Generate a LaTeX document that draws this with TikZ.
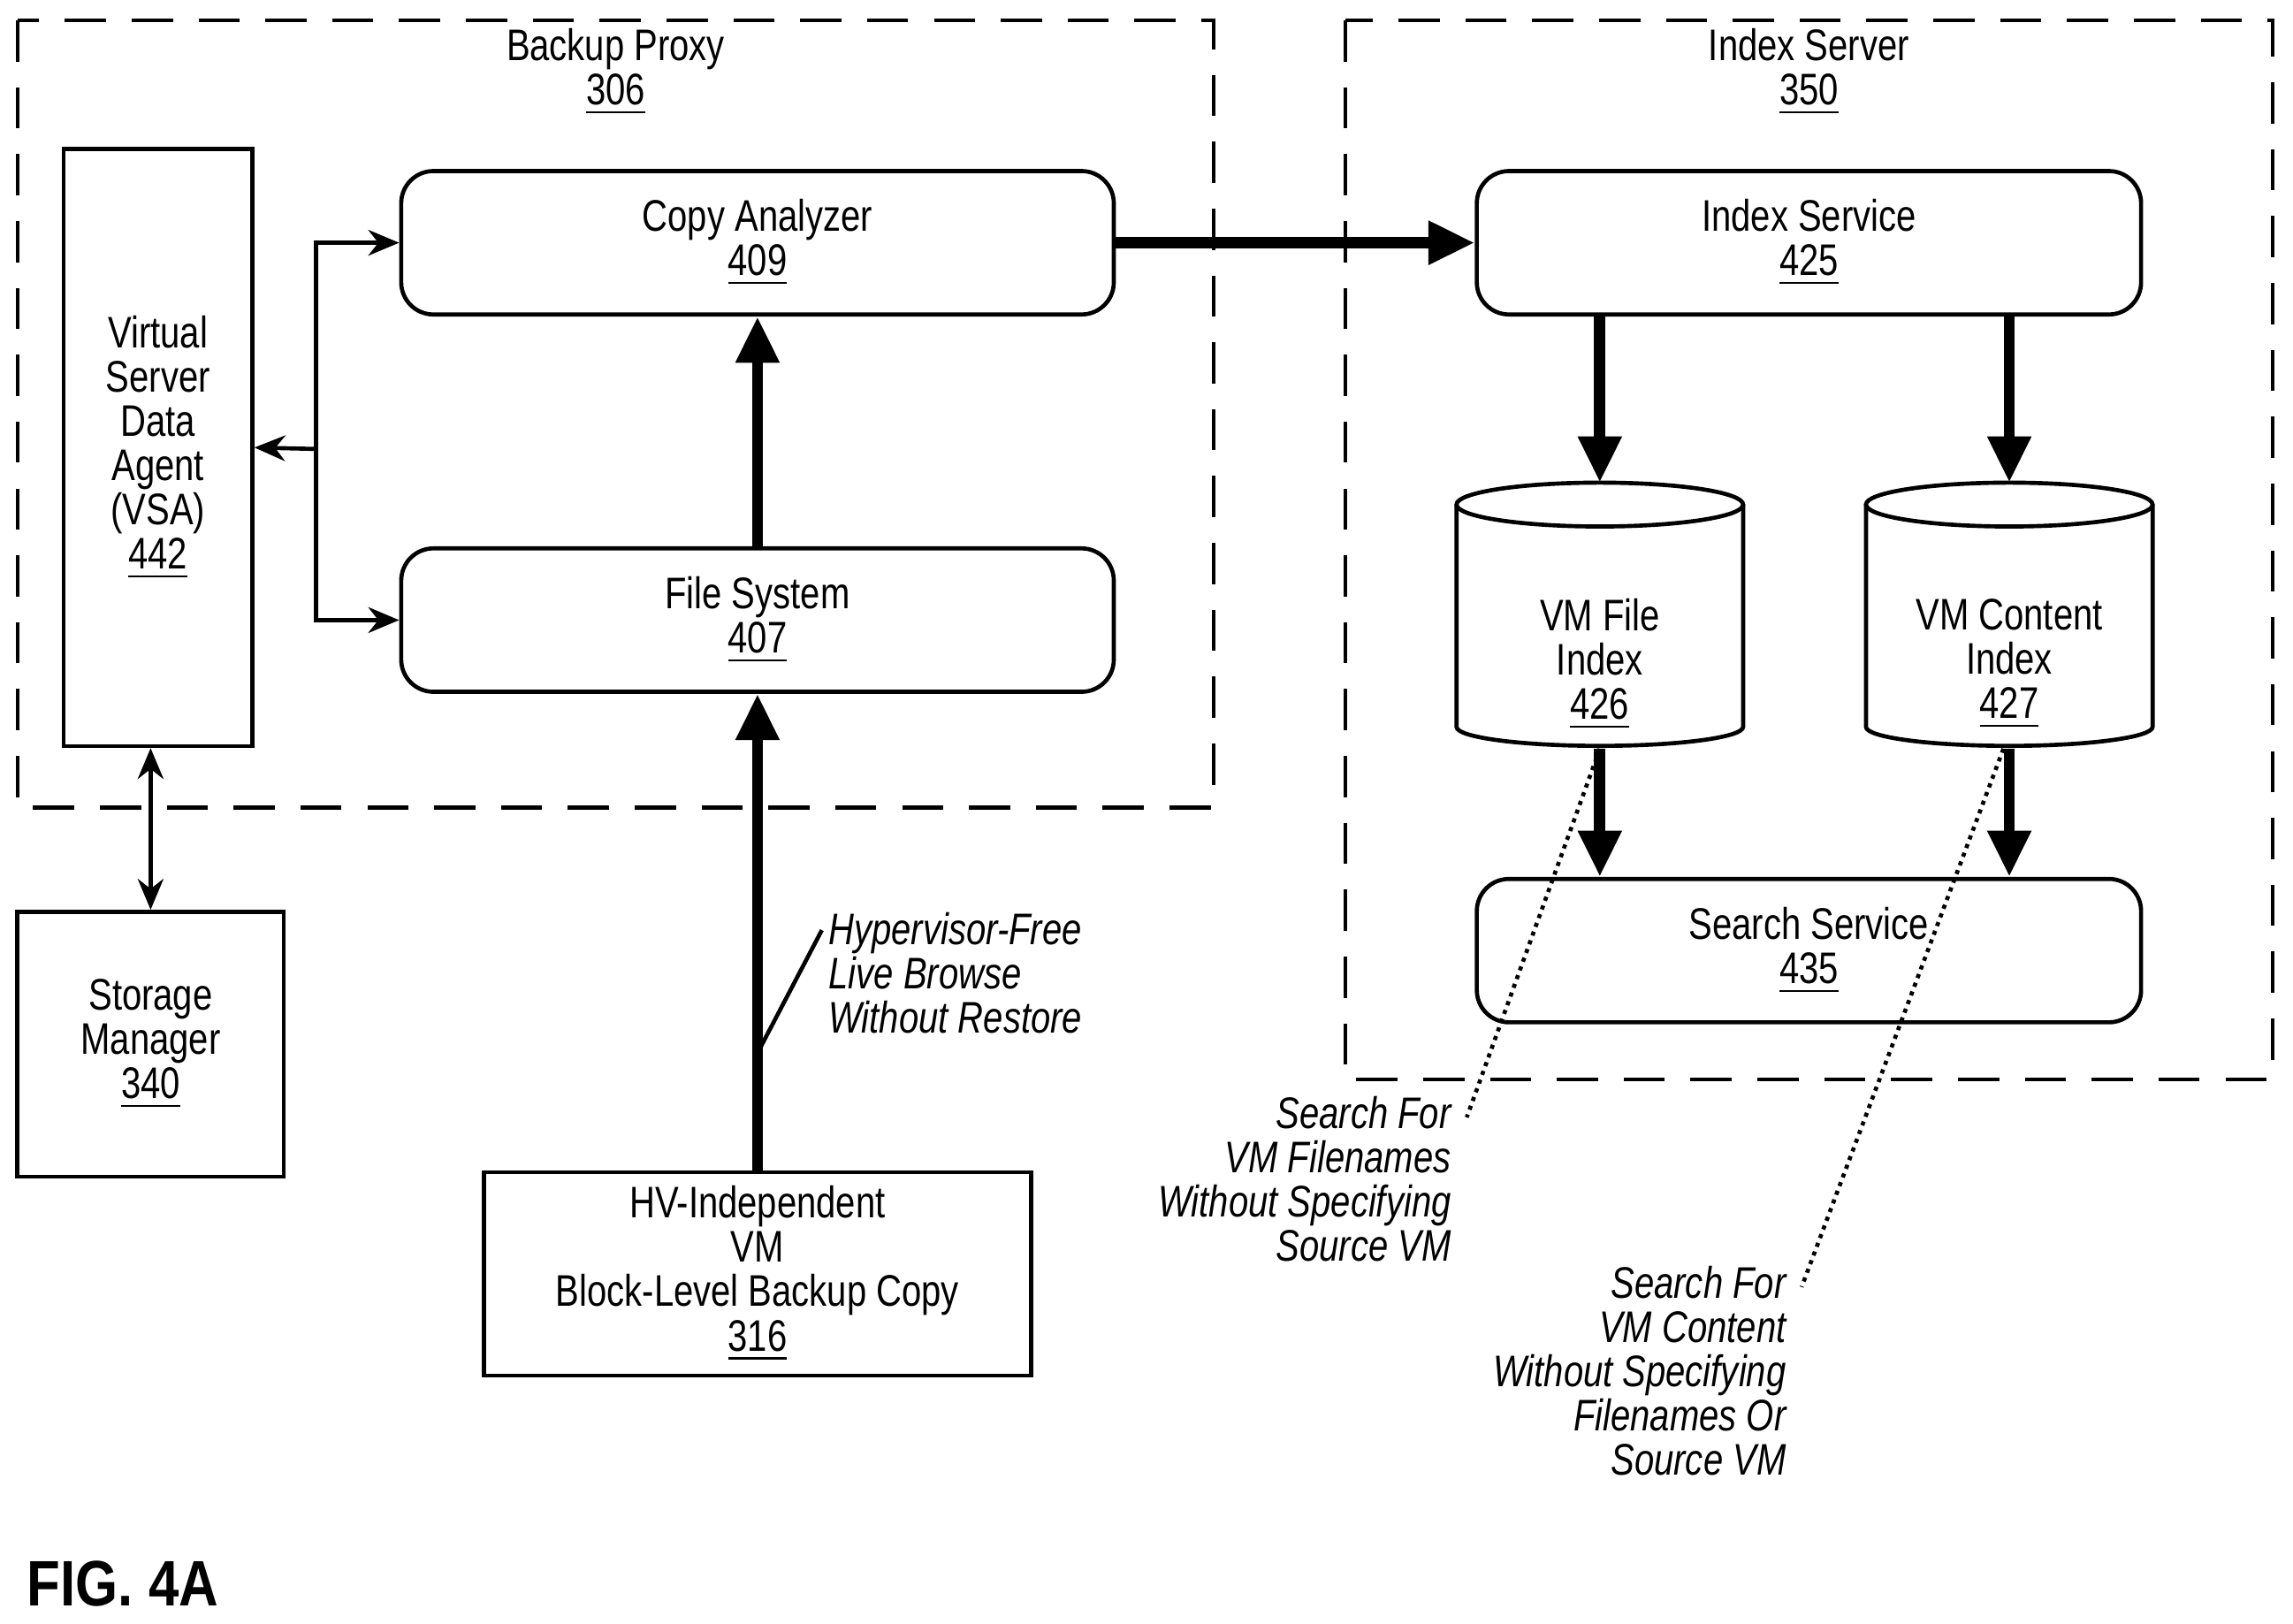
\documentclass[tikz,border=0pt]{standalone}
\usepackage{fontspec}
\setmainfont{Liberation Sans}
\usetikzlibrary{arrows.meta}
\tikzset{
  txt/.style={font=\fontsize{8.6}{8.6}\selectfont\addfontfeature{FakeStretch=0.8},align=center,inner sep=0pt,yshift=-0.03cm},
  rbox/.style={draw,thick,rounded corners=0.22cm,minimum width=4.87cm,minimum height=0.98cm,inner sep=0pt},
  group/.style={draw,thick,dashed,dash pattern=on 8pt off 5pt},
  big/.style={line width=2.2pt,-{Triangle[length=9pt,width=8pt]}},
  thin/.style={thick,-{Stealth[length=6pt,width=5pt]}},
  note/.style={txt,font=\fontsize{8.6}{8.6}\selectfont\itshape\addfontfeature{FakeStretch=0.8}},
  dots/.style={thick,densely dotted}
}
\newcommand{\ul}[1]{\underline{#1}}
\begin{document}
\begin{tikzpicture}[x=0.01cm,y=-0.01cm]
  \useasboundingbox (0,0) rectangle (1568,1110);
  % groups
  \draw[group] (12,14) rectangle (830,552);
  \draw[group] (920,14) rectangle (1554,738);
  \node[txt] (proxy) at (421,46) {Backup Proxy\\\ul{306}};
  \node[txt] (server) at (1237,46) {Index Server\\\ul{350}};
  % boxes
  \node[draw,thick,minimum width=1.29cm,minimum height=4.08cm,txt,yshift=0.03cm] (vsa) at (108,306) {Virtual\\Server\\Data\\Agent\\(VSA)\\\ul{442}};
  \node[rbox,txt,yshift=0.03cm] (ca) at (518,166) {Copy Analyzer\\\ul{409}};
  \node[rbox,txt,yshift=0.03cm] (fs) at (518,424) {File System\\\ul{407}};
  \node[draw,thick,minimum width=3.74cm,minimum height=1.39cm,txt,yshift=0.03cm] (hv) at (518,871) {HV-Independent\\VM\\Block-Level Backup Copy\\\ul{316}};
  \node[draw,thick,minimum width=1.82cm,minimum height=1.81cm,txt,yshift=0.03cm] (sm) at (103,714) {Storage\\Manager\\\ul{340}};
  \node[rbox,minimum width=4.54cm,txt,yshift=0.03cm] (is) at (1237,166) {Index Service\\\ul{425}};
  \node[rbox,minimum width=4.54cm,txt,yshift=0.03cm] (ss) at (1237,650) {Search Service\\\ul{435}};
  % index stores
  \foreach \cx/\nm in {1094/fi,1374/ci}{
    \draw[thick] (\cx,345) ellipse[x radius=98,y radius=15];
    \draw[thick] (\cx-98,345) -- (\cx-98,497) arc[start angle=180,end angle=0,x radius=98,y radius=13] -- (\cx+98,345);
    \coordinate (\nm-top) at (\cx,330);
    \coordinate (\nm-bot) at (\cx,512);
  }
  \node[txt] (fitxt) at (1094,451) {VM File\\Index\\\ul{426}};
  \node[txt] (citxt) at (1374,451) {VM Content\\Index\\\ul{427}};
  % thick arrows
  \draw[big] (ca.east) -- (is.west);
  \draw[big] (fs.north) -- (ca.south);
  \draw[big] (hv.north) -- (fs.south);
  \draw[big] (is.south -| fi-top) -- (fi-top);
  \draw[big] (is.south -| ci-top) -- (ci-top);
  \draw[big] (fi-bot) -- (ss.north -| fi-bot);
  \draw[big] (ci-bot) -- (ss.north -| ci-bot);
  % thin arrows
  \coordinate (hub) at (216,307);
  \draw[thin] (hub) -- (vsa.east);
  \draw[thin] (hub) |- (ca.west);
  \draw[thin] (hub) |- (fs.west);
  \draw[thin,{Stealth[length=6pt,width=5pt]}-{Stealth[length=6pt,width=5pt]}] (vsa.south -| sm.north) -- (sm.north);
  % notes
  \coordinate (hvl) at (518,720);
  \draw[thick] (hvl) -- (562,636);
  \node[note,align=left,anchor=north west] (hvn) at (566,620) {Hypervisor-Free\\Live Browse\\Without Restore};
  \node[note,align=right,anchor=north east] (n1) at (993,746) {Search For\\VM Filenames\\Without Specifying\\Source VM};
  \node[note,align=right,anchor=north east] (n2) at (1222,862) {Search For\\VM Content\\Without Specifying\\Filenames Or\\Source VM};
  \draw[dots] (fi-bot) -- (1003,764);
  \draw[dots] (1370,512) -- (1232,880);
  \node[font=\bfseries\fontsize{12.5}{12.5}\selectfont\addfontfeature{FakeStretch=0.85},anchor=west,inner sep=0pt] (fig) at (18,1083) {FIG. 4A};
\end{tikzpicture}
\end{document}
